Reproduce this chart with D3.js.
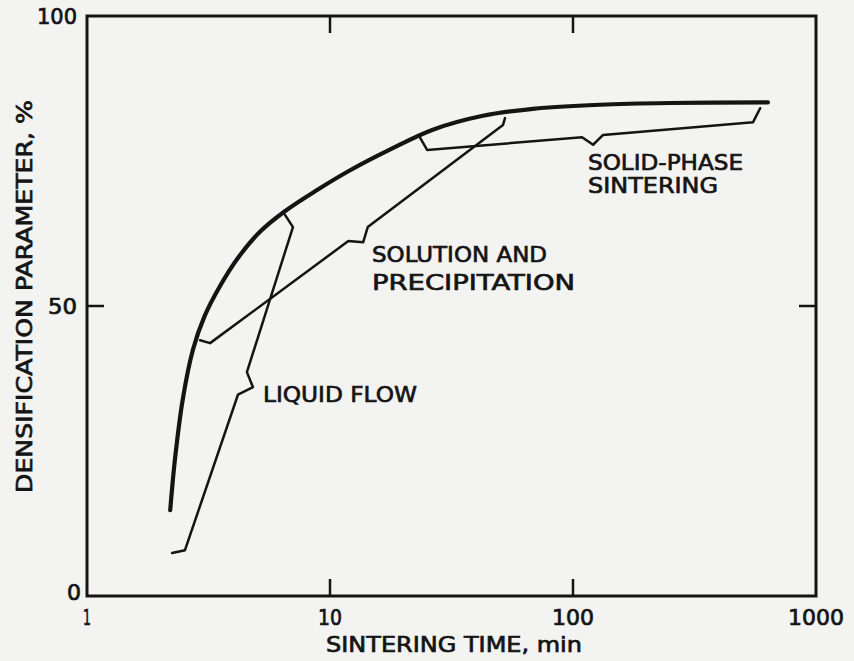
<!DOCTYPE html>
<html><head><meta charset="utf-8">
<script src="https://cdn.jsdelivr.net/npm/d3@7"></script>
<style>
html,body{margin:0;padding:0;background:#f3f3f2;}
svg{display:block;}
text{font-family:"DejaVu Sans",sans-serif;fill:#141414;stroke:#141414;stroke-width:0.7px;}
</style></head><body>
<svg id="c" width="854" height="661"></svg>
<script>
// ---- data (time in min, densification %) ----
const overallT = [2.2, 2.3, 2.48, 2.73, 3.05, 3.5, 4.2, 5.15, 6.5, 8.85, 12.1, 17.7, 26.5, 42.6, 68.4, 129, 250, 634];
const overallD = [14.8, 23.5, 34.0, 42.5, 48.3, 53.2, 58.4, 62.8, 66.3, 70.0, 73.4, 77.0, 80.4, 82.8, 84.0, 84.7, 85.0, 85.1];
const liquidT = [2.24, 2.53, 4.18, 4.82, 4.55, 7.04, 6.53];
const liquidD = [7.4, 7.9, 34.7, 36.0, 38.6, 63.6, 65.7];
const solutionT = [2.92, 3.21, 11.9, 13.7, 14.3, 51.5, 52.5];
const solutionD = [44.1, 43.6, 61.2, 61.0, 63.6, 81.2, 82.4];
const solidT = [23.5, 25.1, 109, 121, 133, 551, 589];
const solidD = [79.0, 76.9, 79.1, 77.8, 79.5, 81.7, 84.1];
const xTicks = [1, 10, 100, 1000];
const xTickLabels = ["1", "10", "100", "1000"];
const yTicks = [0, 50, 100];
const yTickLabels = ["0", "50", "100"];

const svg = d3.select("#c");
const x = d3.scaleLog().domain([1, 1000]).range([87, 816]);
const y = d3.scaleLinear().domain([0, 100]).range([596, 16]);
const ink = "#141414";

function fitText(sel, w) {
  sel.attr("textLength", w).attr("lengthAdjust", "spacingAndGlyphs");
  return sel;
}

// frame
svg.append("rect").attr("x", x(1)).attr("y", y(100))
  .attr("width", x(1000) - x(1)).attr("height", y(0) - y(100))
  .attr("fill", "none").attr("stroke", ink).attr("stroke-width", 3);

// inward ticks
const tl = 17;
[10, 100].forEach(t => {
  svg.append("line").attr("x1", x(t)).attr("x2", x(t)).attr("y1", y(0)).attr("y2", y(0) - tl).attr("stroke", ink).attr("stroke-width", 2.5);
  svg.append("line").attr("x1", x(t)).attr("x2", x(t)).attr("y1", y(100)).attr("y2", y(100) + tl).attr("stroke", ink).attr("stroke-width", 2.5);
});
svg.append("line").attr("x1", x(1)).attr("x2", x(1) + tl).attr("y1", y(50)).attr("y2", y(50)).attr("stroke", ink).attr("stroke-width", 2.5);
svg.append("line").attr("x1", x(1000)).attr("x2", x(1000) - tl).attr("y1", y(50)).attr("y2", y(50)).attr("stroke", ink).attr("stroke-width", 2.5);

// tick labels
const tfs = 21;
const xLabW = {"1": 8, "10": 24, "100": 42, "1000": 56};
xTicks.forEach((t, i) => {
  fitText(svg.append("text").attr("x", x(t) - xLabW[xTickLabels[i]] / 2).attr("y", 625)
    .attr("font-size", tfs).text(xTickLabels[i]), xLabW[xTickLabels[i]]);
});
const yLabW = {"0": 14, "50": 29, "100": 40};
yTicks.forEach((v, i) => {
  const w = yLabW[yTickLabels[i]];
  const right = v === 0 ? 81 : 77;
  fitText(svg.append("text").attr("x", right - w).attr("y", y(v) + (v === 0 ? 4 : 8))
    .attr("font-size", tfs).text(yTickLabels[i]), w);
});

// axis titles
fitText(svg.append("text").attr("x", 326).attr("y", 652).attr("font-size", 21).text("SINTERING TIME, min"), 256);
fitText(svg.append("text").attr("transform", "translate(32,493) rotate(-90)").attr("font-size", 21).text("DENSIFICATION PARAMETER, %"), 393);

// curves
const line = d3.line().x(d => x(d[0])).y(d => y(d[1]));
const smooth = d3.line().x(d => x(d[0])).y(d => y(d[1])).curve(d3.curveCatmullRom.alpha(0.5));

svg.append("path").datum(overallT.map((t, i) => [t, overallD[i]]))
  .attr("d", smooth).attr("fill", "none").attr("stroke", ink).attr("stroke-width", 4.2).attr("stroke-linecap", "round");

[[liquidT, liquidD], [solutionT, solutionD], [solidT, solidD]].forEach(([T, D]) => {
  svg.append("path").datum(T.map((t, i) => [t, D[i]]))
    .attr("d", line).attr("fill", "none").attr("stroke", ink).attr("stroke-width", 2.5)
    .attr("stroke-linejoin", "round").attr("stroke-linecap", "round");
});

// annotation labels
const lfs = 22;
fitText(svg.append("text").attr("x", 372).attr("y", 262).attr("font-size", lfs).text("SOLUTION AND"), 175);
fitText(svg.append("text").attr("x", 372).attr("y", 290).attr("font-size", lfs).text("PRECIPITATION"), 203);
fitText(svg.append("text").attr("x", 263).attr("y", 402).attr("font-size", lfs).text("LIQUID FLOW"), 154);
fitText(svg.append("text").attr("x", 588).attr("y", 170).attr("font-size", lfs).text("SOLID-PHASE"), 155);
fitText(svg.append("text").attr("x", 588).attr("y", 193).attr("font-size", lfs).text("SINTERING"), 130);
</script>
</body></html>
